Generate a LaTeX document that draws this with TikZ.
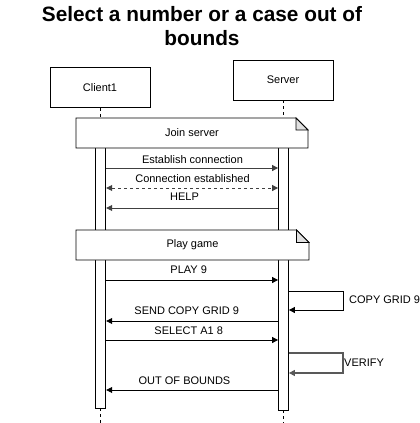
\documentclass[tikz,border=0pt]{standalone}
\usepackage{fontspec}
\setmainfont{Liberation Sans}
\usetikzlibrary{arrows.meta}
\begin{document}
\begin{tikzpicture}[x=1pt,y=-1pt,
  lbl/.style={font=\fontsize{11}{13}\selectfont, inner sep=0pt},
  actor/.style={draw, line width=0.8pt, minimum width=100pt, minimum height=40pt, inner sep=0pt, font=\fontsize{11}{13}\selectfont},
  bar/.style={draw, fill=white, line width=0.8pt, minimum width=10pt, inner sep=0pt},
  life/.style={line width=0.8pt, dash pattern=on 3pt off 3pt},
  msg/.style={line width=0.8pt, -{Triangle[length=6pt,width=6pt]}},
  reply/.style={line width=0.8pt, dash pattern=on 3pt off 3pt, {Triangle[length=6pt,width=6pt]}-{Triangle[length=6pt,width=6pt]}},
  notebox/.style={draw, fill=white, line width=0.8pt},
  fold/.style={draw, fill=black!12, line width=0.8pt}]
\useasboundingbox (0,0) rectangle (420,423);

% title
\node[font=\bfseries\fontsize{20.8}{24}\selectfont, align=center, inner sep=0pt] (title) at (202,26) {Select a number or a case out of\\bounds};

% participants
\node[actor] (client) at (100,87.5) {Client1};
\node[actor] (server) at (283,80) {Server};

% lifelines
\coordinate (cend) at (100.5,423);
\coordinate (send) at (283.5,423);
\draw[life] (client.south) -- (100,128);
\draw[life] (server.south) -- (283,128);
\draw[life] (100.5,408) -- (cend);
\draw[life] (283.5,410) -- (send);

% activation bars
\node[bar, minimum height=280pt] (cbar) at (100.8,268) {};
\node[bar, minimum height=282pt] (sbar) at (283.5,269) {};

% notes
\draw[notebox] (76,118) -- (296,118) -- (308,130) -- (308,148) -- (76,148) -- cycle;
\draw[fold] (296,118) -- (296,130) -- (308,130) -- cycle;
\node[lbl] (join) at (192,133) {Join server};

\draw[notebox] (76,230) -- (296.5,230) -- (309,242.5) -- (309,260) -- (76,260) -- cycle;
\draw[fold] (296.5,230) -- (296.5,242.5) -- (309,242.5) -- cycle;
\node[lbl] (play) at (192.5,245) {Play game};

% message rows
\coordinate (m1) at (0,168);
\coordinate (m2) at (0,188);
\coordinate (m3) at (0,208);
\coordinate (m4) at (0,280);
\coordinate (m5) at (0,321);
\coordinate (m6) at (0,340);
\coordinate (m7) at (0,390);

\draw[msg, draw=black!75] (cbar.east |- m1) -- (sbar.west |- m1);
\node[lbl] at (192.5,159.5) {Establish connection};
\draw[reply, draw=black!75] (cbar.east |- m2) -- (sbar.west |- m2);
\node[lbl] at (192.5,178.5) {Connection established};
\draw[msg, draw=black!75] (sbar.west |- m3) -- (cbar.east |- m3);
\node[lbl] at (184.5,196.5) {HELP};

\draw[msg] (cbar.east |- m4) -- (sbar.west |- m4);
\node[lbl] at (188.7,269.5) {PLAY 9};

% self loop COPY GRID 9
\coordinate (l1a) at (0,291);
\coordinate (l1b) at (0,310);
\draw[msg] (sbar.east |- l1a) -- (343,291) -- (343,310) -- (sbar.east |- l1b);
\node[lbl, anchor=west] at (349,300) {COPY GRID 9};

\draw[msg] (sbar.west |- m5) -- (cbar.east |- m5);
\node[lbl] at (186.7,310.5) {SEND COPY GRID 9};
\draw[msg] (cbar.east |- m6) -- (sbar.west |- m6);
\node[lbl] at (188.7,330.5) {SELECT A1 8};

% self loop VERIFY
\coordinate (l2a) at (0,353);
\coordinate (l2b) at (0,373);
\draw[msg, draw=black!65, line width=1.2pt] (sbar.east |- l2a) -- (343,353) -- (343,373) -- (sbar.east |- l2b);
\node[lbl, anchor=west] at (344,363) {VERIFY};

\draw[msg] (sbar.west |- m7) -- (cbar.east |- m7);
\node[lbl] at (184.5,380.5) {OUT OF BOUNDS};
\end{tikzpicture}
\end{document}
